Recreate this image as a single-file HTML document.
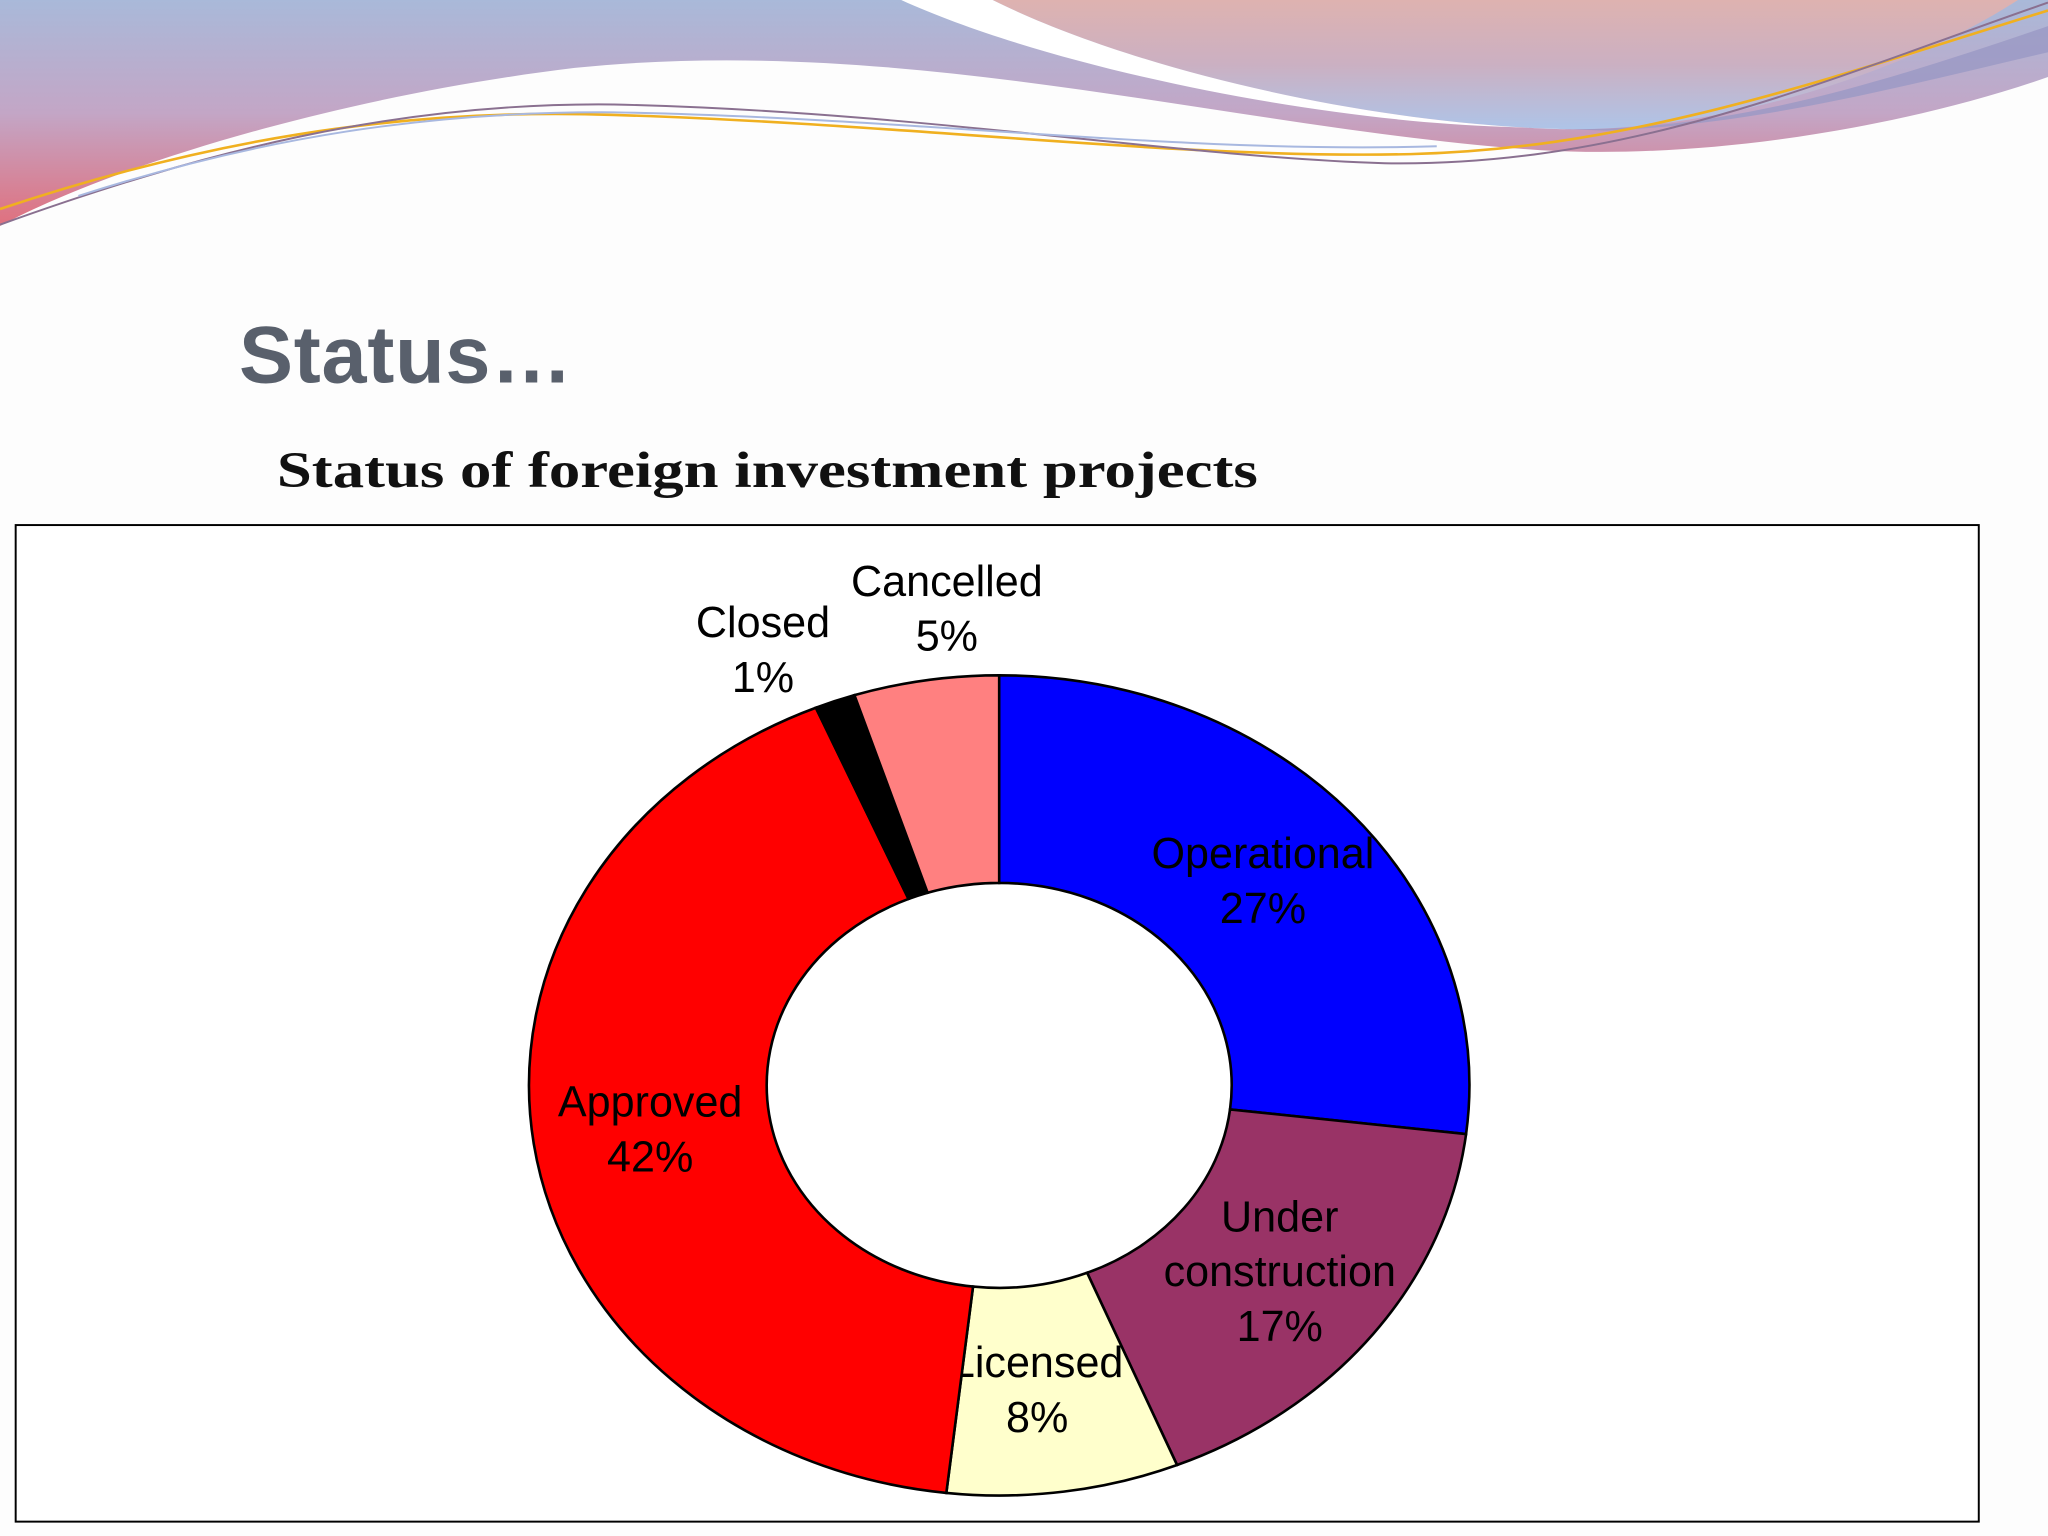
<!DOCTYPE html>
<html><head><meta charset="utf-8"><style>
html,body{margin:0;padding:0;background:#fff;}
svg{display:block;}
</style></head><body>
<svg id="s" width="2048" height="1536" viewBox="0 0 1568 1176" xmlns="http://www.w3.org/2000/svg">
<defs>
<linearGradient id="g1" x1="0" y1="0" x2="0" y2="1"><stop offset="0" stop-color="#a9b9d9"/><stop offset="0.5" stop-color="#c3a6c6"/><stop offset="1" stop-color="#e0707e"/></linearGradient>
<linearGradient id="g2" x1="0" y1="0" x2="0" y2="1"><stop offset="0" stop-color="#deb2b0"/><stop offset="0.5" stop-color="#cbb0c2"/><stop offset="1" stop-color="#aec4e8"/></linearGradient>
</defs>
<rect width="1568" height="1176" fill="#fdfdfd"/>
<g>
<path d="M0,0 H1568 V59 C1450,100 1300,122 1180,115 C950,100 700,25 440,52 C250,75 80,130 0,173 Z" fill="url(#g1)"/>
<path d="M750,0 H1545 C1460,55 1320,100 1200,99 C1040,95 860,50 760,0 Z" fill="url(#g2)"/>
<path d="M690,0 L760,0 C860,50 1040,95 1200,99 L1150,97 C1000,92 800,50 690,0 Z" fill="#fff"/>
<path d="M1568,20 C1450,60 1330,100 1200,99 L1230,100 C1350,95 1460,65 1568,40 Z" fill="#9a98c4" opacity="0.8"/>
<path d="M0,160 C150,110 300,82 470,88 C700,95 900,122 1080,118 C1250,114 1400,60 1568,8" fill="none" stroke="#f0b020" stroke-width="2"/>
<path d="M0,172 C150,118 300,78 470,80 C700,85 900,120 1060,125 C1250,128 1400,60 1568,2" fill="none" stroke="#8a7090" stroke-width="1.5"/>
<path d="M60,150 C200,105 330,85 470,86 C700,90 900,118 1100,112" fill="none" stroke="#a8b8e0" stroke-width="1.5"/>
</g>
<text x="183" y="293" font-family="Liberation Sans, sans-serif" font-weight="bold" font-size="62" fill="#59606c" textLength="255">Status…</text>
<text x="212" y="373" font-family="Liberation Serif, serif" font-weight="bold" font-size="39" fill="#111" textLength="751" lengthAdjust="spacingAndGlyphs">Status of foreign investment projects</text>
<rect x="12" y="402" width="1503" height="763" fill="#fff" stroke="#000" stroke-width="1.5"/>
<g id="donut"></g>
</svg>
<script>
const categories = ["Operational","Under construction","Licensed","Approved","Closed","Cancelled"];
const values = [27,17,8,42,1.4,5];
const valueLabels = ["27%","17%","8%","42%","1%","5%"];
const colors = ["#0000ff","#993366","#ffffcc","#ff0000","#000000","#ff8080"];
const cx=765, cy=831, rx=360, ry=314, irx=178, iry=155;
const NS="http://www.w3.org/2000/svg";
const g=document.getElementById('donut');
const total=values.reduce((a,b)=>a+b,0);
function pt(a,fx,fy){return [cx+fx*Math.sin(a), cy-fy*Math.cos(a)];}
let acc=0;
const labelLines=[["Operational"],["Under","construction"],["Licensed"],["Approved"],["Closed"],["Cancelled"]];
const outside=[false,false,false,false,true,true];
values.forEach((v,i)=>{
  const a0=acc/total*2*Math.PI; acc+=v; const a1=acc/total*2*Math.PI;
  const large=(a1-a0)>Math.PI?1:0;
  const p0=pt(a0,rx,ry),p1=pt(a1,rx,ry),q1=pt(a1,irx,iry),q0=pt(a0,irx,iry);
  const p=document.createElementNS(NS,'path');
  p.setAttribute('d',`M${p0} A${rx},${ry} 0 ${large} 1 ${p1} L${q1} A${irx},${iry} 0 ${large} 0 ${q0} Z`);
  p.setAttribute('fill',colors[i]);p.setAttribute('stroke','#000');p.setAttribute('stroke-width','2');
  
  
  g.appendChild(p);
  const am=(a0+a1)/2;
  const f=outside[i]?1.16:0.75;
  let [lx,ly]=pt(am,rx*f,ry*f);
  if(outside[i]){lx+= (i===4?-35:25); ly+= (i===4?8:-5);}
  if(i===2){lx-=8;}
  const lines=labelLines[i].concat([valueLabels[i]]);
  const t=document.createElementNS(NS,'text');
  t.setAttribute('font-family','Liberation Sans, sans-serif');
  t.setAttribute('font-size','33');t.setAttribute('text-anchor','middle');t.setAttribute('fill','#000');
  
  
  const h=42, start=ly-(lines.length-1)*h/2+11;
  lines.forEach((s,k)=>{const ts=document.createElementNS(NS,'tspan');ts.setAttribute('x',lx);ts.setAttribute('y',start+k*h);ts.textContent=s;t.appendChild(ts);});
  g.appendChild(t);
});
</script>
</body></html>
